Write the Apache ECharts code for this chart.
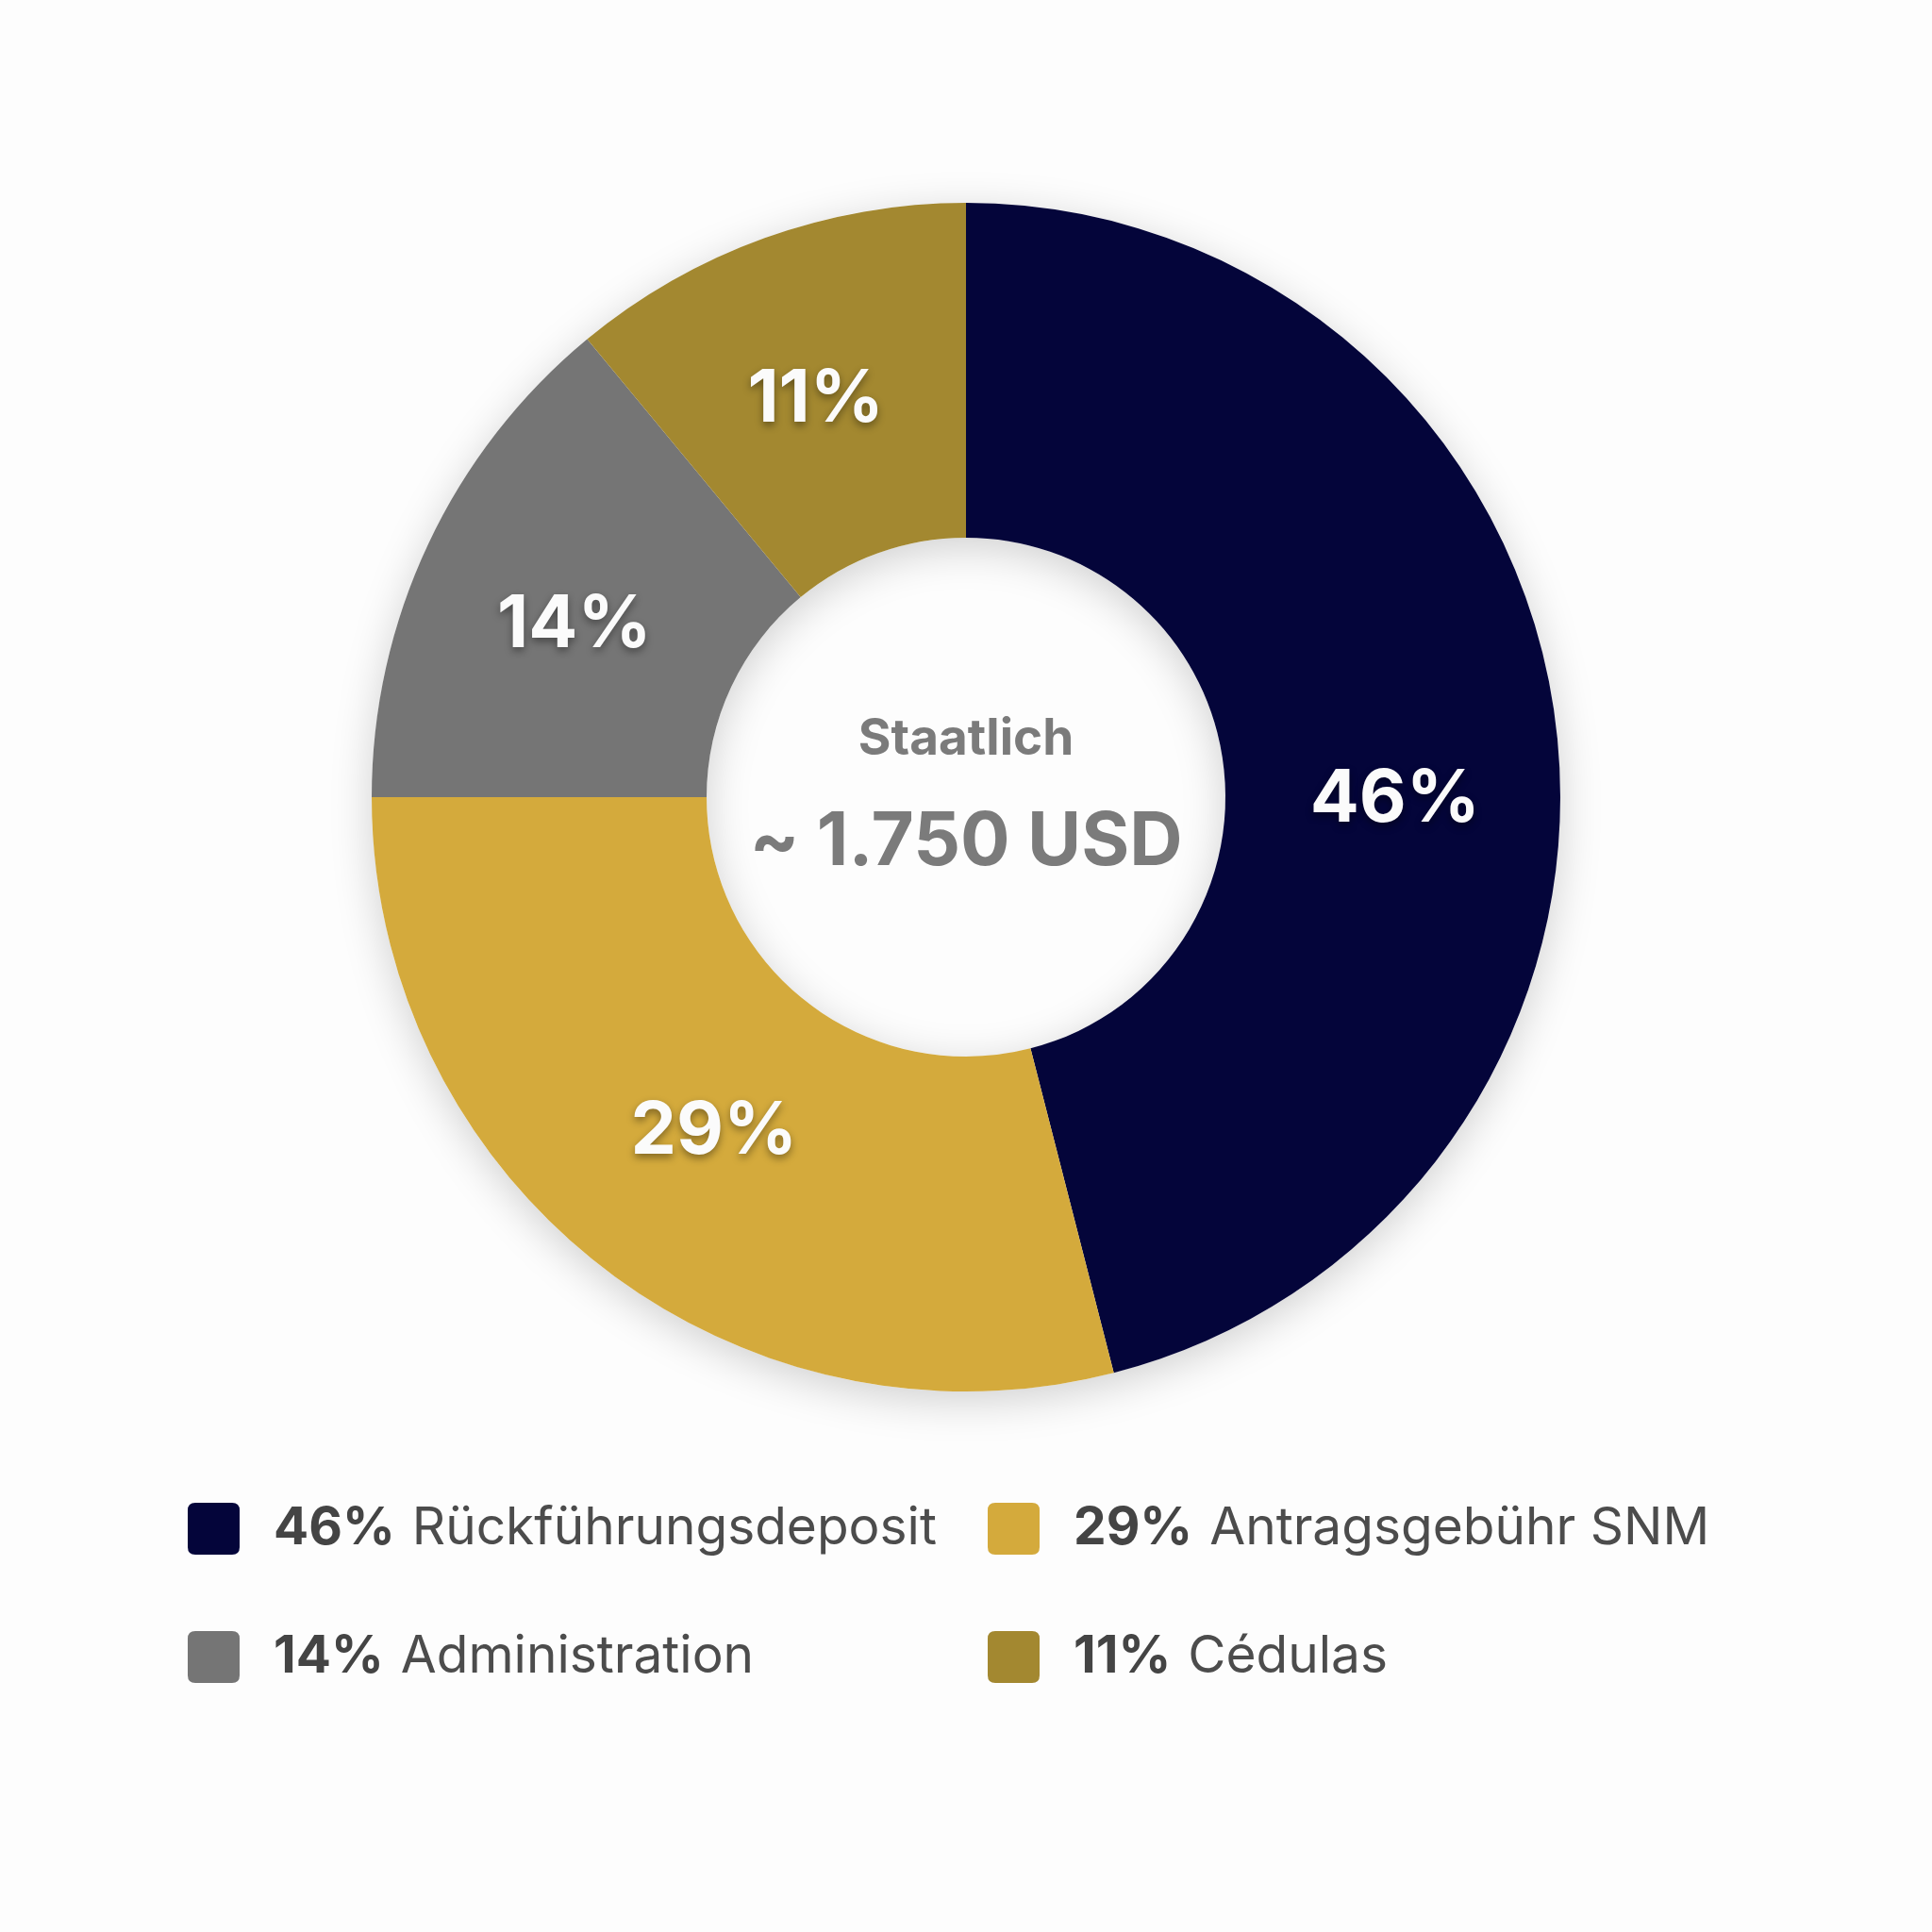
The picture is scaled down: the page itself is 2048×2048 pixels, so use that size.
<!DOCTYPE html>
<html lang="de">
<head>
    <meta charset="UTF-8">
    <title>Staatlich</title>
    <script src="https://cdn.jsdelivr.net/npm/echarts@6/dist/echarts.min.js"></script>
    <style>
        html, body { margin: 0; padding: 0; background: #fdfdfd; }
        #chart { width: 2048px; height: 2048px; }
    </style>
</head>
<body>
    <div id="chart"></div>
    <script type="text/javascript">
        // data
        var names = ['Rückführungsdeposit', 'Antragsgebühr SNM', 'Administration', 'Cédulas'];
        var values = [46, 29, 14, 11];
        var colors = ['#04053a', '#d4aa3c', '#757575', '#a38830'];
        var centerTitle = 'Staatlich';
        var centerValue = '~ 1.750 USD';

        var font = 'Inter, "Noto Sans", sans-serif';
        var cx = 1024, cy = 845;
        var inner = 275, outer = 630;
        // small nudges so the labels sit where the reference has them
        var labelOffsets = [[3, 60], [12, -5], [-3, 12], [-5, 7]];

        var pieData = [];
        for (var i = 0; i < names.length; i++) {
            pieData.push({
                name: names[i],
                value: values[i],
                itemStyle: { color: colors[i] },
                label: { offset: labelOffsets[i] }
            });
        }
        var total = 0;
        for (var i = 0; i < values.length; i++) total += values[i];

        // rounded square for legend icons
        var roundIcon = 'path://M8,0H47Q55,0,55,8V47Q55,55,47,55H8Q0,55,0,47V8Q0,0,8,0Z';

        function legendText(name) {
            var idx = names.indexOf(name);
            return '{b|' + values[idx] + '%}{n|' + name + '}';
        }
        var legendRich = {
            b: { fontFamily: font, fontWeight: 'bold', fontSize: 55, color: '#444444', lineHeight: 55, padding: [0, 0, 0, 31] },
            n: { fontFamily: font, fontWeight: 'normal', fontSize: 55, color: '#4c4c4c', lineHeight: 55, padding: [0, 0, 0, 18] }
        };
        function makeLegend(left, items) {
            return {
                orient: 'vertical',
                left: left,
                top: 1593,
                padding: 0,
                itemWidth: 55,
                itemHeight: 55,
                itemGap: 81,
                icon: roundIcon,
                selectedMode: false,
                data: items,
                formatter: legendText,
                textStyle: { rich: legendRich }
            };
        }

        var myChart = echarts.init(document.getElementById('chart'));
        var option = {
            backgroundColor: '#fdfdfd',
            animation: false,
            legend: [
                makeLegend(199, [names[0], names[2]]),
                makeLegend(1047, [names[1], names[3]])
            ],
            graphic: [
                {
                    type: 'text',
                    x: cx, y: 784,
                    silent: true,
                    style: { text: centerTitle, fill: '#7b7b7b', font: 'bold 53px ' + font, textAlign: 'center', textVerticalAlign: 'middle' }
                },
                {
                    type: 'text',
                    x: cx, y: 894,
                    silent: true,
                    style: { text: centerValue, fill: '#7b7b7b', font: 'bold 78px ' + font, textAlign: 'center', textVerticalAlign: 'middle' }
                }
            ],
            series: [
                {
                    // shadow ring beneath the donut
                    type: 'pie',
                    silent: true,
                    center: [cx, cy],
                    radius: [inner, outer],
                    label: { show: false },
                    labelLine: { show: false },
                    itemStyle: {
                        color: '#ffffff',
                        shadowBlur: 45,
                        shadowColor: 'rgba(0,0,0,0.18)',
                        shadowOffsetY: 10
                    },
                    data: [{ name: 'total', value: total }]
                },
                {
                    type: 'pie',
                    center: [cx, cy],
                    radius: [inner, outer],
                    startAngle: 90,
                    clockwise: true,
                    avoidLabelOverlap: false,
                    emphasis: { disabled: true },
                    label: {
                        show: true,
                        position: 'inside',
                        formatter: '{c}%',
                        color: '#fbfbfb',
                        fontFamily: font,
                        fontWeight: 'bold',
                        fontSize: 77,
                        textShadowColor: 'rgba(0,0,0,0.4)',
                        textShadowBlur: 8,
                        textShadowOffsetY: 4
                    },
                    labelLine: { show: false },
                    data: pieData
                }
            ]
        };
        myChart.setOption(option);
    </script>
</body>
</html>
